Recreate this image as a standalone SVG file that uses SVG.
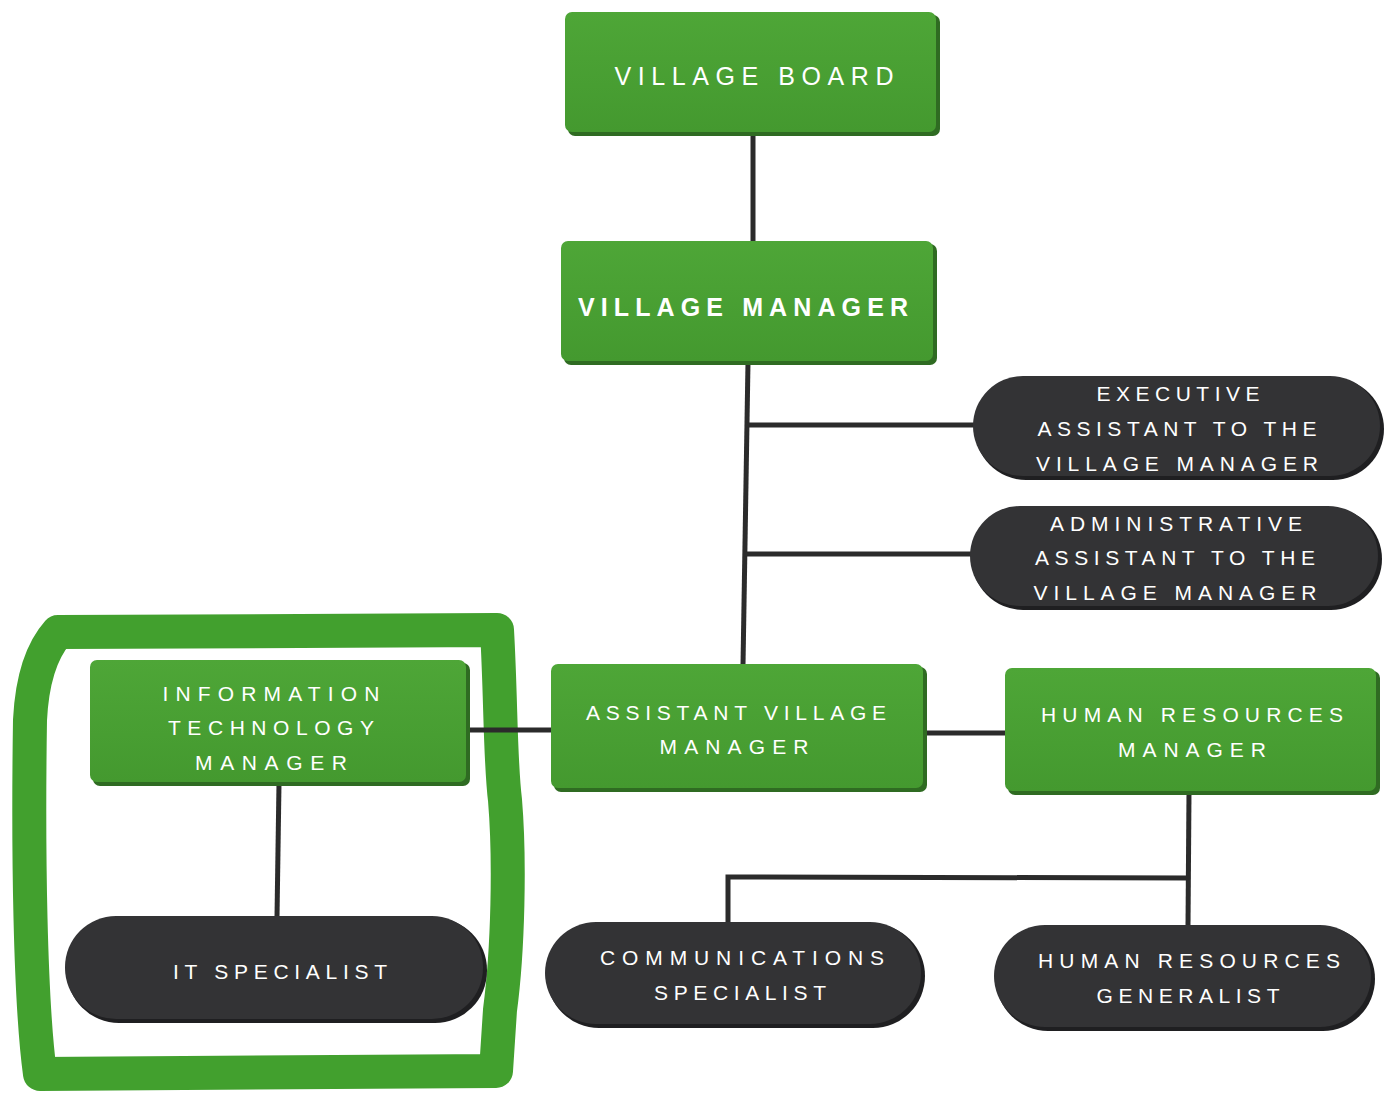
<svg xmlns="http://www.w3.org/2000/svg" width="1385" height="1097" viewBox="0 0 1385 1097">
  <defs>
    <linearGradient id="greenFill" x1="0" y1="0" x2="0" y2="1">
      <stop offset="0" stop-color="#4ea637"/>
      <stop offset="1" stop-color="#44992f"/>
    </linearGradient>
    <style>
      .box { fill: url(#greenFill); }
      .box-edge { fill: #2f6b22; }
      .pill { fill: #333335; }
      .pill-edge { fill: #1f1f21; }
      .lbl { font-family: "Liberation Sans", "DejaVu Sans", sans-serif; fill: #ffffff; text-anchor: middle; font-size: 21px; }
      .lbl-lg { font-size: 25px; }
      .lbl-b { font-weight: bold; }
      .wire { stroke: #2b2b2b; stroke-width: 5; fill: none; stroke-linecap: butt; }
      .marker-loop { stroke: #42a02e; stroke-width: 34; fill: none; stroke-linejoin: round; stroke-linecap: round; }
    </style>
  </defs>
  <rect width="1385" height="1097" fill="#ffffff"/>

  <!-- hand-drawn highlight around the IT unit -->
  <path class="marker-loop" d="M 58 632 L 300 631 L 497 630 C 501 700, 500 760, 505 800 C 510 860, 508 950, 500 1010 L 496 1071 L 40 1074 C 30 1000, 28 850, 30 720 C 32 680, 42 650, 58 632 Z"/>

  <!-- connectors -->
  <g id="connectors">
    <line class="wire" x1="753" y1="133" x2="753" y2="242"/>
    <line class="wire" x1="748" y1="362" x2="743" y2="665"/>
    <line class="wire" x1="746" y1="425" x2="975" y2="425"/>
    <line class="wire" x1="744" y1="554" x2="972" y2="554"/>
    <line class="wire" x1="469" y1="730" x2="552" y2="730" stroke-width="7"/>
    <line class="wire" x1="925" y1="733" x2="1006" y2="733" stroke-width="6"/>
    <line class="wire" x1="1189" y1="792" x2="1188" y2="926"/>
    <polyline class="wire" points="1189,878 728,877 728,923"/>
    <line class="wire" x1="279" y1="783" x2="277" y2="917"/>
  </g>

  <!-- nodes -->
  <g id="village-board">
    <rect class="box-edge" x="568" y="15" width="372" height="121" rx="7"/>
    <rect class="box" x="565" y="12" width="371" height="120" rx="7"/>
    <text class="lbl lbl-lg" x="754" y="85" textLength="279" lengthAdjust="spacing">VILLAGE BOARD</text>
  </g>

  <g id="village-manager">
    <rect class="box-edge" x="564" y="244" width="373" height="121" rx="7"/>
    <rect class="box" x="561" y="241" width="372" height="120" rx="7"/>
    <text class="lbl lbl-lg lbl-b" x="743" y="316" textLength="330" lengthAdjust="spacing">VILLAGE MANAGER</text>
  </g>

  <g id="executive-assistant">
    <rect class="pill-edge" x="975" y="378" width="409" height="102" rx="51"/>
    <rect class="pill" x="973" y="376" width="407" height="100" rx="50"/>
    <text class="lbl" x="1178" y="401" textLength="163" lengthAdjust="spacing">EXECUTIVE</text>
    <text class="lbl" x="1177" y="436" textLength="279" lengthAdjust="spacing">ASSISTANT TO THE</text>
    <text class="lbl" x="1177" y="471" textLength="282" lengthAdjust="spacing">VILLAGE MANAGER</text>
  </g>

  <g id="administrative-assistant">
    <rect class="pill-edge" x="972" y="508" width="410" height="102" rx="51"/>
    <rect class="pill" x="970" y="506" width="408" height="100" rx="50"/>
    <text class="lbl" x="1176" y="531" textLength="252" lengthAdjust="spacing">ADMINISTRATIVE</text>
    <text class="lbl" x="1175" y="565" textLength="280" lengthAdjust="spacing">ASSISTANT TO THE</text>
    <text class="lbl" x="1175" y="600" textLength="283" lengthAdjust="spacing">VILLAGE MANAGER</text>
  </g>

  <g id="it-manager">
    <rect class="box-edge" x="93" y="663" width="377" height="123" rx="7"/>
    <rect class="box" x="90" y="660" width="376" height="122" rx="7"/>
    <text class="lbl" x="271" y="701" textLength="217" lengthAdjust="spacing">INFORMATION</text>
    <text class="lbl" x="271" y="735" textLength="206" lengthAdjust="spacing">TECHNOLOGY</text>
    <text class="lbl" x="271" y="770" textLength="152" lengthAdjust="spacing">MANAGER</text>
  </g>

  <g id="assistant-village-manager">
    <rect class="box-edge" x="554" y="667" width="373" height="125" rx="7"/>
    <rect class="box" x="551" y="664" width="372" height="124" rx="7"/>
    <text class="lbl" x="736" y="720" textLength="300" lengthAdjust="spacing">ASSISTANT VILLAGE</text>
    <text class="lbl" x="734" y="754" textLength="149" lengthAdjust="spacing">MANAGER</text>
  </g>

  <g id="hr-manager">
    <rect class="box-edge" x="1008" y="671" width="372" height="124" rx="7"/>
    <rect class="box" x="1005" y="668" width="371" height="123" rx="7"/>
    <text class="lbl" x="1192" y="722" textLength="302" lengthAdjust="spacing">HUMAN RESOURCES</text>
    <text class="lbl" x="1192" y="757" textLength="148" lengthAdjust="spacing">MANAGER</text>
  </g>

  <g id="it-specialist">
    <rect class="pill-edge" x="67" y="918" width="420" height="105" rx="52"/>
    <rect class="pill" x="65" y="916" width="418" height="103" rx="51"/>
    <text class="lbl" x="280" y="979" textLength="214" lengthAdjust="spacing">IT SPECIALIST</text>
  </g>

  <g id="communications-specialist">
    <rect class="pill-edge" x="547" y="924" width="378" height="104" rx="52"/>
    <rect class="pill" x="545" y="922" width="376" height="102" rx="51"/>
    <text class="lbl" x="742" y="965" textLength="284" lengthAdjust="spacing">COMMUNICATIONS</text>
    <text class="lbl" x="740" y="1000" textLength="172" lengthAdjust="spacing">SPECIALIST</text>
  </g>

  <g id="hr-generalist">
    <rect class="pill-edge" x="996" y="927" width="379" height="104" rx="52"/>
    <rect class="pill" x="994" y="925" width="377" height="102" rx="51"/>
    <text class="lbl" x="1189" y="968" textLength="302" lengthAdjust="spacing">HUMAN RESOURCES</text>
    <text class="lbl" x="1188" y="1003" textLength="183" lengthAdjust="spacing">GENERALIST</text>
  </g>
</svg>
